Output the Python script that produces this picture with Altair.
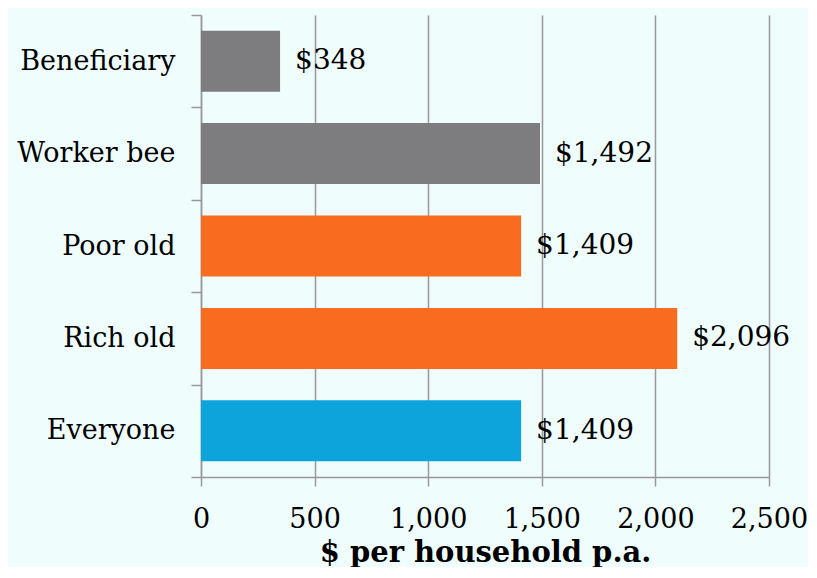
import altair as alt
import pandas as pd

categories = ["Beneficiary", "Worker bee", "Poor old", "Rich old", "Everyone"]
values = [348, 1492, 1409, 2096, 1409]
colors = ["#7d7d80", "#7d7d80", "#f96b1e", "#f96b1e", "#0ca4db"]
labels = ["$348", "$1,492", "$1,409", "$2,096", "$1,409"]

df = pd.DataFrame({"cat": categories, "val": values, "color": colors, "label": labels})

FONT = "DejaVu Serif"

y = alt.Y("cat:N", sort=categories, title=None,
          scale=alt.Scale(paddingInner=0, paddingOuter=0),
          axis=alt.Axis(tickBand="extent", tickSize=10, tickColor="#999999", tickWidth=1.5,
                        domainColor="#999999", domainWidth=1.5, labelPadding=16,
                        labelFont=FONT, labelFontSize=27, labelColor="#000000", grid=False))

x = alt.X("val:Q", title="$ per household p.a.",
          scale=alt.Scale(domain=[0, 2500], nice=False),
          axis=alt.Axis(values=[0, 500, 1000, 1500, 2000, 2500], format=",d",
                        tickSize=9, tickColor="#999999", tickWidth=1.5,
                        domainColor="#999999", domainWidth=1.5, labelFlush=False,
                        gridColor="#999999", gridWidth=1.5, labelPadding=20,
                        labelFont=FONT, labelFontSize=27, labelColor="#000000",
                        titleFont=FONT, titleFontSize=29, titleFontWeight="bold",
                        titleColor="#000000", titlePadding=6))

bars = alt.Chart(df).mark_bar(height=alt.RelativeBandSize(0.66)).encode(
    x=x, y=y, color=alt.Color("color:N", scale=None)
)

text = alt.Chart(df).mark_text(align="left", baseline="middle", dx=15,
                               font=FONT, fontSize=28, color="#000000").encode(
    x="val:Q", y=alt.Y("cat:N", sort=categories), text="label:N"
)

chart = (bars + text).properties(
    width=568, height=462, background="#effdfd",
    padding={"left": 8, "top": -7, "right": 0, "bottom": 0}
).configure_view(stroke=None)

chart.save("out.html", embed_options={"renderer": "svg", "actions": False})
